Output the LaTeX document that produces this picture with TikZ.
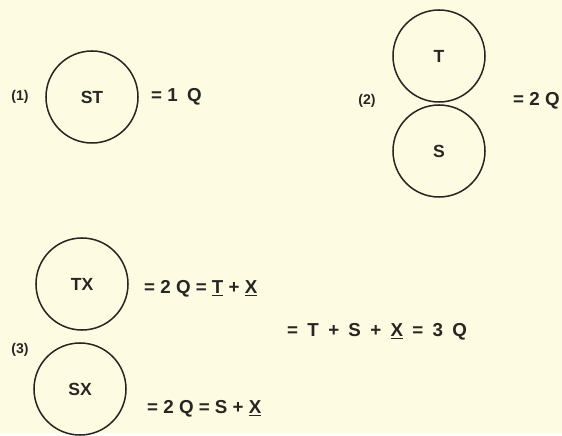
\documentclass[tikz,border=0pt]{standalone}
\usepackage{fontspec}
\setsansfont{Liberation Sans}
\usepackage{tikz}
\definecolor{paper}{RGB}{253,252,226}
\definecolor{ink}{RGB}{40,38,34}
\newcommand{\gap}{\hspace{3.5pt}}

\begin{document}
\begin{tikzpicture}[
					x=0.03cm,y=-0.03cm,
					ring/.style={circle,draw=ink,line width=1.3pt,minimum size=2.76cm,inner sep=0pt,text=ink,font=\sffamily\bfseries\fontsize{15}{18}\selectfont},
					eqtext/.style={anchor=west,inner sep=0pt,text=ink,font=\sffamily\bfseries\fontsize{16}{19}\selectfont},
					numtag/.style={inner sep=0pt,text=ink,font=\sffamily\bfseries\large}
					]
					\fill[paper] (0,0) rectangle (562,433);
					% (1)
					\node[numtag] (n1) at (20,97) {(1)};
					\node[ring] (st) at (92,97) {ST};
					\node[eqtext] (e1) at (151,97) {= 1 \gap Q};
					% (2)
					\node[numtag] (n2) at (367,101) {(2)};
					\foreach \q/\y in {t/56,s/151}{
						\node[ring] (\q) at (439,\y) {\MakeUppercase{\q}};
					}
					\node[eqtext] (e2) at (513,101) {= 2 Q};
					% (3)
					\node[numtag] (n3) at (20,350) {(3)};
					\node[ring] (tx) at (82,284) {TX};
					\node[ring] (sx) at (80,389) {SX};
					\node[eqtext] (e3) at (144,289) {= 2 Q = \underline{T} + \underline{X}};
					\node[eqtext] (e4) at (147,409) {= 2 Q = S + \underline{X}};
					\node[eqtext] (e5) at (287,332) {= \gap T \gap + \gap S \gap + \gap \underline{X} \gap = \gap 3 \gap Q};
				\end{tikzpicture}
\end{document}
